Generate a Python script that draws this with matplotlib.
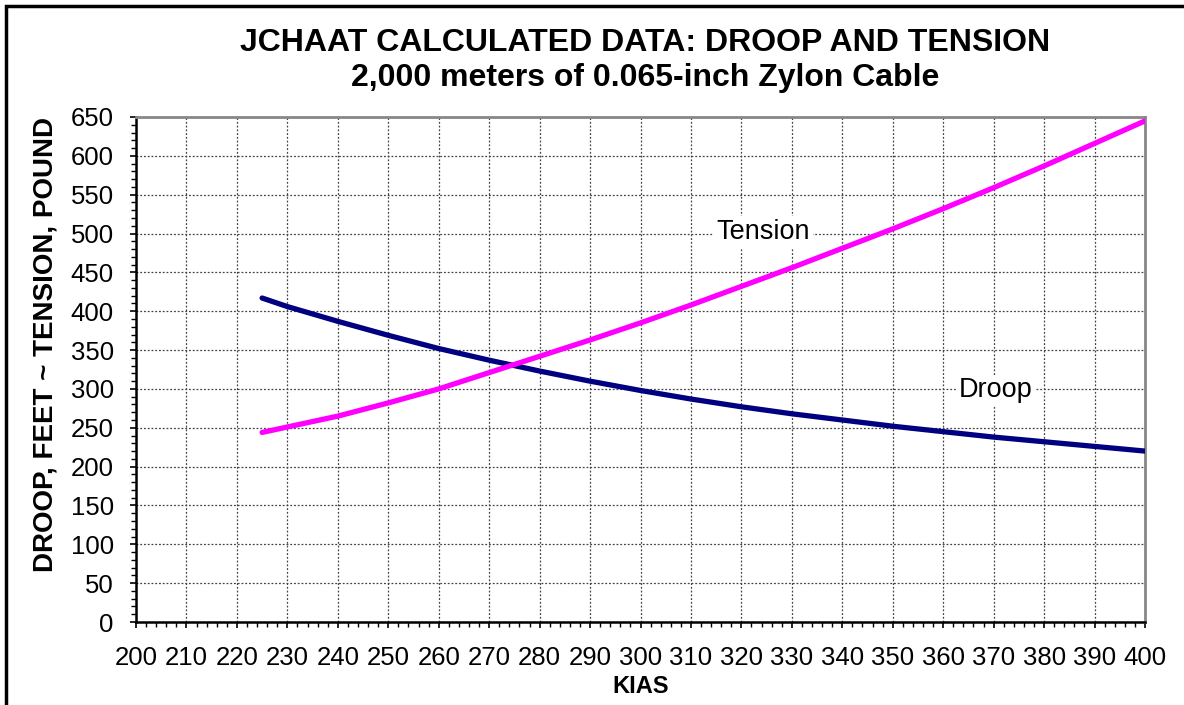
import matplotlib.pyplot as plt
from matplotlib.patches import Rectangle
from matplotlib.ticker import MultipleLocator

plt.rcParams['font.family'] = ['Liberation Sans', 'DejaVu Sans']

# values
kias = [225, 230, 240, 250, 260, 270, 280, 290, 300, 310, 320, 330, 340,
        350, 360, 370, 380, 390, 400]
droop = [417, 406, 387, 369, 352, 337, 323, 310, 298, 287, 277, 268, 260,
         252, 245, 238, 232, 226, 220]
tension = [244, 251, 265, 282, 300, 321, 342, 363, 385, 408, 432, 456, 481,
           506, 532, 559, 587, 616, 645]

fig = plt.figure(figsize=(11.84, 7.05), dpi=100)
ax = fig.add_axes([136 / 1184, 1 - 622 / 705, (1145 - 136) / 1184, (622 - 117) / 705])

ax.plot(kias, droop, color='#000080', lw=3.8, solid_capstyle='round', zorder=3)
ax.plot(kias, tension, color='#FF00FF', lw=3.8, solid_capstyle='round', zorder=3)

ax.set_xlim(200, 400)
ax.set_ylim(0, 650)
ax.xaxis.set_major_locator(MultipleLocator(10))
ax.xaxis.set_minor_locator(MultipleLocator(2))
ax.yaxis.set_major_locator(MultipleLocator(50))
ax.yaxis.set_minor_locator(MultipleLocator(10))
ax.grid(True, which='major', color='#444444', linestyle=(0, (1.5, 1.5)), lw=0.9)
ax.set_axisbelow(True)

ax.tick_params(which='major', direction='out', length=4, width=1.2, labelsize=18.5,
               colors='black', pad=12)
ax.tick_params(which='minor', direction='out', length=3.6, width=1)
ax.tick_params(axis='x', pad=13)

for s in ['left', 'bottom']:
    ax.spines[s].set_color('black')
    ax.spines[s].set_linewidth(1.8)
for s in ['top', 'right']:
    ax.spines[s].set_color('#888888')
    ax.spines[s].set_linewidth(2)

ax.set_xlabel('KIAS', fontsize=17, fontweight='bold', labelpad=4)
ax.set_ylabel('DROOP, FEET ~ TENSION, POUND', fontsize=20, fontweight='bold')
ax.yaxis.label.set(rotation_mode='default', ha='center', va='center')
ax.yaxis.set_label_coords(-0.09, 0.549)

ax.text(324.3, 502, 'Tension', fontsize=19.5, ha='center', va='center',
        bbox=dict(facecolor='white', edgecolor='none', pad=2), zorder=4)
ax.text(370.3, 298, 'Droop', fontsize=19.5, ha='center', va='center',
        bbox=dict(facecolor='white', edgecolor='none', pad=2), zorder=4)

fig.text(645 / 1184, 1 - 43 / 705, 'JCHAAT CALCULATED DATA: DROOP AND TENSION',
         fontsize=23, fontweight='bold', ha='center', va='center')
fig.text(645 / 1184, 1 - 78 / 705, '2,000 meters of 0.065-inch Zylon Cable',
         fontsize=23, fontweight='bold', ha='center', va='center')

fig.patches.append(Rectangle((6 / 1184, -0.1), 1.2, 1 - 6 / 705 + 0.1,
                             transform=fig.transFigure, fill=False,
                             edgecolor='black', lw=2.5))

fig.savefig('out.png', dpi=100)
